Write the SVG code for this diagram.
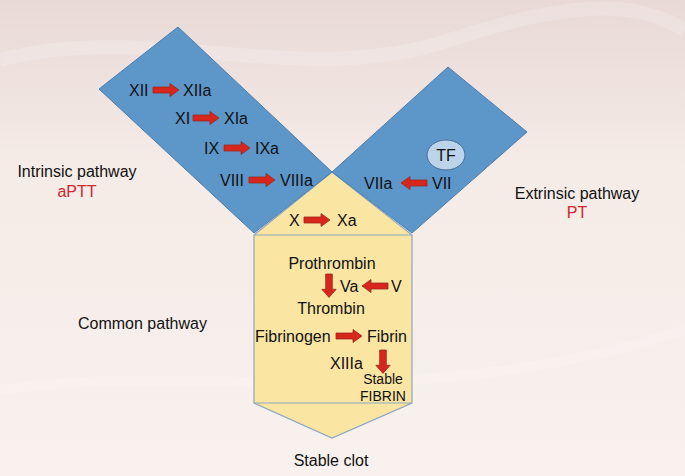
<svg xmlns="http://www.w3.org/2000/svg" width="685" height="476" viewBox="0 0 685 476">
<defs>
<linearGradient id="bg" x1="0" y1="0" x2="0" y2="1">
<stop offset="0" stop-color="#e8d9d6"/>
<stop offset="0.35" stop-color="#f5ebe7"/>
<stop offset="1" stop-color="#f8f1ee"/>
</linearGradient>
<path id="arr" d="M0,-3 H17 V-6.5 L26,0 L17,6.5 V3 H0 Z"/>
</defs>
<style>
text{font-family:"Liberation Sans",Arial,sans-serif;font-size:16px;fill:#111}
.red{fill:#d0262d}
.sm{font-size:14px}
.ar{fill:#d8261c;stroke:#9c2a1e;stroke-width:0.8}
.blue{fill:#5d96c9;stroke:#4a7db0;stroke-width:1}
.yel{fill:#fae5a3;stroke:#8ea7bd;stroke-width:1.2}
</style>
<rect width="685" height="476" fill="url(#bg)"/>
<path d="M0,60 C150,20 300,90 450,40 S650,10 685,30" fill="none" stroke="#ffffff" stroke-opacity="0.18" stroke-width="14"/>
<path d="M0,390 C200,360 400,420 685,330" fill="none" stroke="#ffffff" stroke-opacity="0.15" stroke-width="10"/>

<g id="common-yellow">
<path class="yel" d="M332,172 L412,235 V403 L332,438 L254,403 V235 Z"/>
<line x1="254" y1="235" x2="412" y2="235" stroke="#8ea7bd" stroke-width="1.2"/>
<line x1="254" y1="403" x2="412" y2="403" stroke="#8ea7bd" stroke-width="1.2"/>
</g>
<g id="intrinsic-box">
<path class="blue" d="M178,27 L332,172 L254,233 L99,89 Z"/>
</g>
<g id="extrinsic-box">
<path class="blue" d="M448,67 L527,132 L412,233 L332,172 Z"/>
</g>
<g id="tf">
<ellipse cx="446" cy="155" rx="19" ry="15" fill="#bcd4ea" stroke="#4a6f99" stroke-width="1"/>
<text x="446" y="161" text-anchor="middle">TF</text>
</g>

<g id="labels">
<text x="77" y="177" text-anchor="middle">Intrinsic pathway</text>
<text x="77" y="197" text-anchor="middle" class="red">aPTT</text>
<text x="577" y="199" text-anchor="middle">Extrinsic pathway</text>
<text x="577" y="218" text-anchor="middle" class="red">PT</text>
<text x="78" y="329">Common pathway</text>
<text x="331" y="466" text-anchor="middle">Stable clot</text>
</g>

<g id="intrinsic-factors">
<text x="129" y="96">XII</text><text x="183" y="96">XIIa</text>
<text x="175" y="124">XI</text><text x="224" y="124">XIa</text>
<text x="204" y="154">IX</text><text x="255" y="154">IXa</text>
<text x="220" y="186">VIII</text><text x="280" y="186">VIIIa</text>
</g>
<g id="x-activation">
<text x="289" y="226">X</text><text x="337" y="226">Xa</text>
</g>
<g id="extrinsic-factors">
<text x="364" y="189">VIIa</text><text x="432" y="189">VII</text>
</g>
<g id="common-factors">
<text x="332" y="269" text-anchor="middle">Prothrombin</text>
<text x="340" y="292">Va</text><text x="391" y="292">V</text>
<text x="331" y="314" text-anchor="middle">Thrombin</text>
<text x="255" y="342">Fibrinogen</text><text x="367" y="342">Fibrin</text>
<text x="330" y="369">XIIIa</text>
<text x="383" y="384" text-anchor="middle" class="sm">Stable</text>
<text x="383" y="401" text-anchor="middle" class="sm">FIBRIN</text>
</g>

<g id="connectors" class="ar">
<use href="#arr" transform="translate(153,90)"/>
<use href="#arr" transform="translate(193,118)"/>
<use href="#arr" transform="translate(224,148)"/>
<use href="#arr" transform="translate(249,180)"/>
<use href="#arr" transform="translate(304,220)"/>
<use href="#arr" transform="translate(427,183) rotate(180)"/>
<use href="#arr" transform="translate(329,274) rotate(90) scale(0.9,1.1)"/>
<use href="#arr" transform="translate(388,286) rotate(180)"/>
<use href="#arr" transform="translate(336,336)"/>
<use href="#arr" transform="translate(383,350) rotate(90) scale(0.9,1.1)"/>
</g>
</svg>
